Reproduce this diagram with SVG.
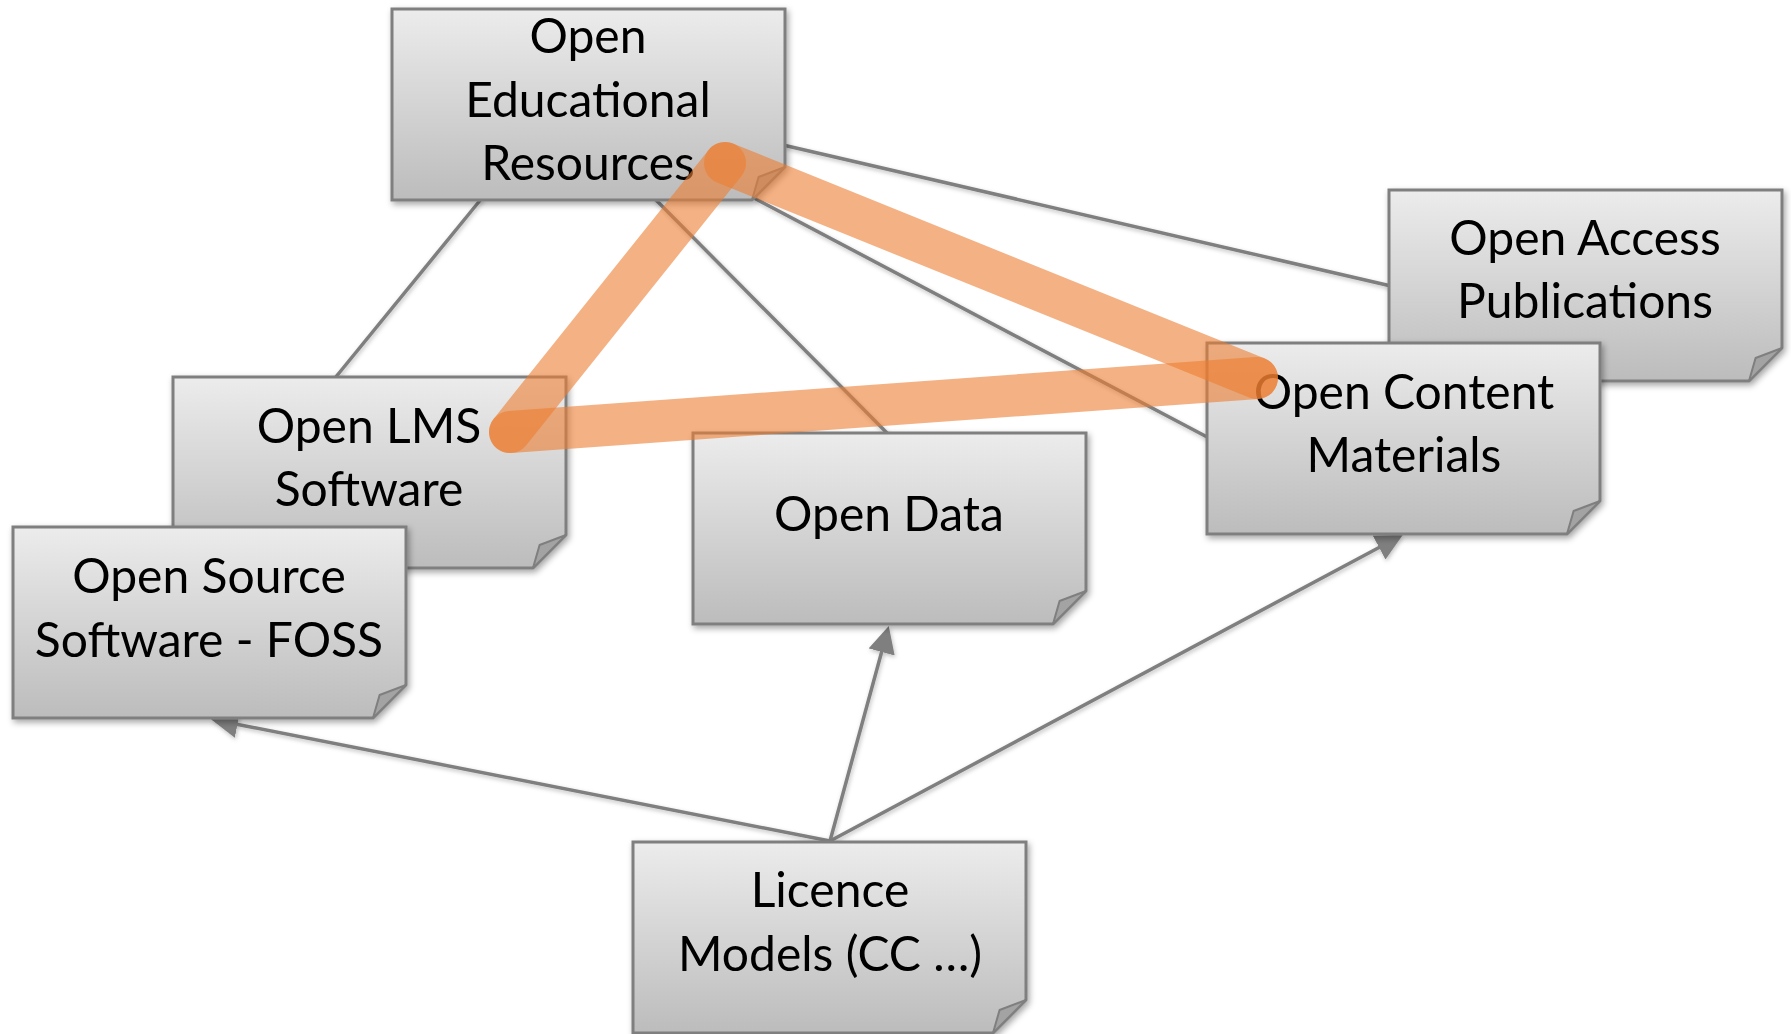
<svg xmlns="http://www.w3.org/2000/svg" xmlns:xlink="http://www.w3.org/1999/xlink" width="1791" height="1034" viewBox="0 0 1791 1034">
  <style>
    .body { fill: url(#gfill); stroke: #7f7f7f; stroke-width: 3; }
    .fold { fill: #a3a3a3; stroke: #7f7f7f; stroke-width: 2; stroke-linejoin: round; }
    .lbl { font-family: Lato, "Open Sans", "Liberation Sans", sans-serif; font-size: 48px; fill: #000; text-anchor: middle; }
    .conn { stroke: #7f7f7f; stroke-width: 3.5; fill: none; }
    .hl { stroke: #ED7D31; stroke-opacity: 0.6; stroke-width: 42; stroke-linecap: round; fill: none; }
  </style>
  <defs>
    <linearGradient id="gfill" x1="0" y1="0" x2="0" y2="1">
      <stop offset="0" stop-color="#ececec"/>
      <stop offset="1" stop-color="#bcbcbc"/>
    </linearGradient>
    <filter id="shadow" x="-10%" y="-10%" width="125%" height="130%">
      <feDropShadow dx="2" dy="3" stdDeviation="3" flood-color="#000" flood-opacity="0.35"/>
    </filter>
    <filter id="lshadow" x="-5%" y="-5%" width="110%" height="110%">
      <feDropShadow dx="1" dy="2" stdDeviation="2" flood-color="#000" flood-opacity="0.25"/>
    </filter>
    <marker id="arr" markerUnits="userSpaceOnUse" markerWidth="30" markerHeight="28" viewBox="0 0 30 28" refX="1" refY="13.5" orient="auto">
      <path d="M0,0 L27,13.5 L0,27 Z" fill="#7f7f7f"/>
    </marker>
    <g id="card">
      <path class="body" d="M0,0 H393 V158 L360,191 H0 Z"/>
      <path class="fold" d="M393,158 L366.6,168 L360,191 Z"/>
    </g>
  </defs>

  <g id="connectors" filter="url(#lshadow)">
    <line class="conn" x1="482" y1="198" x2="335" y2="378"/>
    <line class="conn" x1="655" y1="199" x2="889" y2="435"/>
    <line class="conn" x1="754" y1="198" x2="1209" y2="438"/>
    <line class="conn" x1="783" y1="145" x2="1391" y2="286"/>
    <line class="conn" x1="830" y1="841" x2="236.5" y2="724.2" marker-end="url(#arr)"/>
    <line class="conn" x1="830" y1="841" x2="881.9" y2="651" marker-end="url(#arr)"/>
    <line class="conn" x1="830" y1="841" x2="1380" y2="547" marker-end="url(#arr)"/>
  </g>

  <g id="node-oer" filter="url(#shadow)">
    <use xlink:href="#card" transform="translate(392,9)"/>
    <text class="lbl" x="588" y="53">Open</text>
    <text class="lbl" x="588" y="117">Educational</text>
    <text class="lbl" x="588" y="180">Resources</text>
  </g>
  <g id="node-open-access" filter="url(#shadow)">
    <use xlink:href="#card" transform="translate(1389,190)"/>
    <text class="lbl" x="1585" y="255">Open Access</text>
    <text class="lbl" x="1585" y="318">Publications</text>
  </g>
  <g id="node-open-content" filter="url(#shadow)">
    <use xlink:href="#card" transform="translate(1207,343)"/>
    <text class="lbl" x="1404" y="409">Open Content</text>
    <text class="lbl" x="1404" y="472">Materials</text>
  </g>
  <g id="node-open-lms" filter="url(#shadow)">
    <use xlink:href="#card" transform="translate(173,377)"/>
    <text class="lbl" x="369" y="443">Open LMS</text>
    <text class="lbl" x="369" y="506">Software</text>
  </g>
  <g id="node-open-data" filter="url(#shadow)">
    <use xlink:href="#card" transform="translate(693,433)"/>
    <text class="lbl" x="889" y="531">Open Data</text>
  </g>
  <g id="node-foss" filter="url(#shadow)">
    <use xlink:href="#card" transform="translate(13,527)"/>
    <text class="lbl" x="209" y="593">Open Source</text>
    <text class="lbl" x="209" y="657">Software - FOSS</text>
  </g>
  <g id="node-licence" filter="url(#shadow)">
    <use xlink:href="#card" transform="translate(633,842)"/>
    <text class="lbl" x="830" y="907">Licence</text>
    <text class="lbl" x="830" y="971">Models (CC …)</text>
  </g>

  <g id="highlight-connectors">
    <line class="hl" x1="725" y1="163" x2="1257" y2="378"/>
    <line class="hl" x1="510" y1="432" x2="1257" y2="378"/>
    <line class="hl" x1="725" y1="163" x2="510" y2="432"/>
  </g>
</svg>
